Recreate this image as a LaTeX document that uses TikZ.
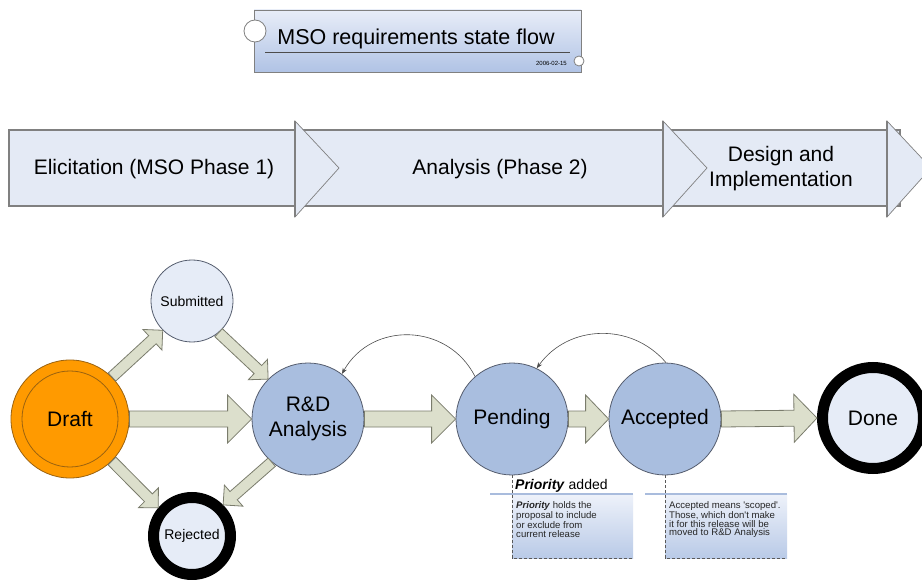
\documentclass[tikz,border=0pt]{standalone}
\usepackage{fontspec}
\setmainfont{Liberation Sans}
\usetikzlibrary{calc,arrows.meta}

\definecolor{bannerfill}{HTML}{E4EAF5}
\definecolor{bannerline}{HTML}{808080}
\definecolor{titletop}{HTML}{E8EDF8}
\definecolor{titlebottom}{HTML}{B0C3E5}
\definecolor{stateblue}{HTML}{A9BEDF}
\definecolor{statelight}{HTML}{E6ECF7}
\definecolor{draftorange}{HTML}{FF9A00}
\definecolor{draftline}{HTML}{9A6210}
\definecolor{stateline}{HTML}{555D6E}
\definecolor{flowfill}{HTML}{DCDFCC}
\definecolor{flowline}{HTML}{7A7C6C}
\definecolor{noteline}{HTML}{A9BCDD}
\definecolor{notetop}{HTML}{EEF2FA}
\definecolor{notebottom}{HTML}{B9CAE7}

% Block arrow between two points:
% #1 start, #2 tip, #3 shaft half-width, #4 head half-width, #5 head length
\newcommand\flowarrow[5]{%
  \coordinate (fa-base) at ($(#2)!#5!(#1)$);
  \draw[flowarrowstyle]
    ($(#1)!#3!90:(#2)$) -- ($(fa-base)!#3!-90:(#1)$) -- ($(fa-base)!#4!-90:(#1)$)
    -- (#2)
    -- ($(fa-base)!#4!90:(#1)$) -- ($(fa-base)!#3!90:(#1)$) -- ($(#1)!#3!-90:(#2)$)
    -- cycle;
}

\tikzset{
  state/.style={circle, draw=stateline, line width=0.8pt, fill=stateblue,
    inner sep=0pt, minimum size=112pt, align=center,
    font=\fontsize{21}{25}\selectfont},
  lightstate/.style={state, fill=statelight, minimum size=82pt,
    font=\fontsize{14}{16}\selectfont},
  endstate/.style={state, fill=statelight, draw=black, line width=11pt},
  flowarrowstyle/.style={draw=flowline, fill=flowfill, line width=0.8pt, line join=miter},
  loopback/.style={draw=black!70, line width=0.6pt, -{Stealth[length=6pt,width=4.5pt]}},
  phasetext/.style={anchor=base, inner sep=0pt, align=center,
    font=\fontsize{21}{25}\selectfont},
  chevron/.style={fill=bannerfill, draw=bannerline, line width=0.7pt, line join=miter},
  notedash/.style={draw=black!65, line width=0.8pt, dash pattern=on 3pt off 2pt},
  notetext/.style={anchor=north west, inner sep=0pt, align=left,
    font=\fontsize{9.6}{8.6}\selectfont, text=black!85},
}

\begin{document}
\begin{tikzpicture}[x=1pt, y=-1pt]
  \fill[white] (0,0) rectangle (922,580);
  \useasboundingbox (0,0) rectangle (922,580);

  % ---- title plate ----
  \shade[top color=titletop, bottom color=titlebottom] (254,10) rectangle (581,72);
  \draw[bannerline, line width=0.8pt] (254,10) rectangle (581,72);
  \draw[black!70, line width=0.7pt] (265,52) -- (570,52);
  \node[anchor=base, inner sep=0pt, font=\fontsize{21.5}{25}\selectfont] (title)
    at (416,45) {MSO requirements state flow};
  \node[anchor=base east, inner sep=0pt, font=\fontsize{6}{7}\selectfont] (date)
    at (567,66) {2006-02-15};
  \draw[bannerline, fill=white, line width=0.8pt] (255,31) circle[radius=11pt];
  \draw[bannerline, fill=white, line width=0.8pt] (579,61) circle[radius=5pt];

  % ---- phase banner ----
  \draw[fill=bannerfill, draw=bannerline, line width=1.8pt] (9,130) rectangle (900,206);
  \draw[bannerline, line width=0.7pt] (9,130) -- (9,206);
  \foreach \hx in {295,663,887} {
    \draw[chevron] (\hx,121) -- (\hx+44,168) -- (\hx,217) -- cycle;
    \draw[bannerline, line width=1.6pt] (\hx,121) -- (\hx,217);
  }
  \node[phasetext] (phase1) at (154,175) {Elicitation (MSO Phase 1)};
  \node[phasetext] (phase2) at (500,175) {Analysis (Phase 2)};
  \node[phasetext] (phase3a) at (781,162) {Design and};
  \node[phasetext] (phase3b) at (781,187) {Implementation};

  % ---- states ----
  \node[state, fill=draftorange, draw=draftline, minimum size=118pt] (draft) at (70,419) {Draft};
  \node[circle, draw=draftline, line width=0.8pt, minimum size=96pt, inner sep=0pt]
    (draftinner) at (draft.center) {};
  \node[lightstate] (submitted) at (192,301) {Submitted};
  \node[state] (rd) at (308,419) {R\&D\\Analysis};
  \node[endstate, minimum size=77pt, font=\fontsize{14}{16}\selectfont] (rejected)
    at (192,536) {Rejected};
  \node[state] (pending) at (512,419) {Pending};
  \node[state] (accepted) at (665,419) {Accepted};
  \node[endstate, minimum size=101pt] (done) at (873,418) {Done};

  % ---- transitions ----
  \flowarrow{draft.east}{rd.west}{8pt}{24pt}{24pt}
  \flowarrow{rd.east}{pending.west}{8pt}{24pt}{24pt}
  \flowarrow{pending.east}{accepted.west}{8pt}{24pt}{23pt}
  \flowarrow{accepted.east}{done.west}{8pt}{24pt}{23pt}
  \flowarrow{draft.45}{submitted.225}{5.5pt}{14pt}{14pt}
  \flowarrow{submitted.-50}{rd.135}{5.5pt}{14pt}{14pt}
  \flowarrow{draft.-45}{rejected.140}{5.5pt}{14pt}{14pt}
  \flowarrow{rd.-130}{rejected.45}{5.5pt}{14pt}{14pt}

  \draw[loopback] (pending.131) to[bend right=62, looseness=1.16] (rd.53);
  \draw[loopback] (accepted.89) to[bend right=52, looseness=1.06] (pending.64);

  % ---- notes ----
  \coordinate (n1a) at (pending.south |- 0,558);
  \coordinate (n1b) at (633,558);
  \shade[top color=notetop, bottom color=notebottom] (pending.south |- 0,494) rectangle (n1b);
  \draw[noteline, line width=2.5pt] (490,494) -- (633,494);
  \draw[notedash] (pending.south) -- (n1a) -- (n1b);
  \node[anchor=base west, inner sep=0pt, font=\fontsize{14}{16}\selectfont] (prio)
    at (515,489) {\textbf{\textit{Priority}} added};
  \node[notetext] (note1) at (516,501.5)
    {\textbf{\textit{Priority}} holds the\\proposal to include\\or exclude from\\current release};

  \coordinate (n2a) at (accepted.south |- 0,558);
  \coordinate (n2b) at (787,558);
  \shade[top color=notetop, bottom color=notebottom] (accepted.south |- 0,494) rectangle (n2b);
  \draw[noteline, line width=2.5pt] (645,494) -- (787,494);
  \draw[notedash] (accepted.south) -- (n2a) -- (n2b);
  \node[notetext] (note2) at (669,501.5)
    {Accepted means \textquotesingle scoped\textquotesingle.\\Those, which don\textquotesingle t make\\it for this release will be\\moved to R\&D Analysis};
\end{tikzpicture}
\end{document}
